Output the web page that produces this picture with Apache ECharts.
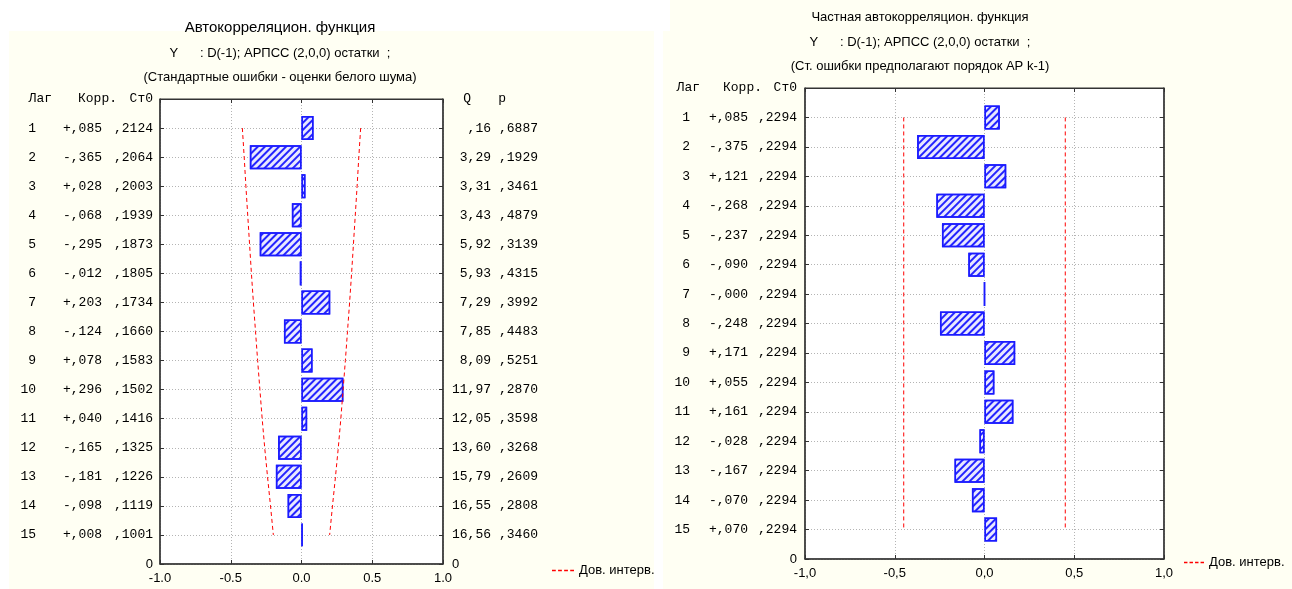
<!DOCTYPE html>
<html><head><meta charset="utf-8">
<script src="https://cdn.jsdelivr.net/npm/echarts@6/dist/echarts.min.js"></script>
<style>html,body{margin:0;padding:0;background:#fff}#c{width:1292px;height:589px}</style>
</head><body><div id="c"></div>
<script>
// ---- data ----
const lags = [1,2,3,4,5,6,7,8,9,10,11,12,13,14,15];
const acf = [0.085,-0.365,0.028,-0.068,-0.295,-0.012,0.203,-0.124,0.078,0.296,0.040,-0.165,-0.181,-0.098,0.008];
const acfSE = [0.2124,0.2064,0.2003,0.1939,0.1873,0.1805,0.1734,0.1660,0.1583,0.1502,0.1416,0.1325,0.1226,0.1119,0.1001];
const qStat = [0.16,3.29,3.31,3.43,5.92,5.93,7.29,7.85,8.09,11.97,12.05,13.60,15.79,16.55,16.56];
const pVal = [0.6887,0.1929,0.3461,0.4879,0.3139,0.4315,0.3992,0.4483,0.5251,0.2870,0.3598,0.3268,0.2609,0.2808,0.3460];
const acfConf = [0.418,0.405,0.393,0.380,0.367,0.354,0.340,0.325,0.310,0.294,0.278,0.260,0.240,0.219,0.199];
const pacf = [0.085,-0.375,0.121,-0.268,-0.237,-0.090,-0.000,-0.248,0.171,0.055,0.161,-0.028,-0.167,-0.070,0.070];
const pacfSE = [0.2294,0.2294,0.2294,0.2294,0.2294,0.2294,0.2294,0.2294,0.2294,0.2294,0.2294,0.2294,0.2294,0.2294,0.2294];
const pacfConf = [0.45,0.45,0.45,0.45,0.45,0.45,0.45,0.45,0.45,0.45,0.45,0.45,0.45,0.45,0.45];
const xTicksLeft = ['-1.0','-0.5','0.0','0.5','1.0'];
const xTicksRight = ['-1,0','-0,5','0,0','0,5','1,0'];
const legendName = 'Дов. интерв.';
const titlesLeft = ['Автокорреляцион. функция','Y      : D(-1); АРПСС (2,0,0) остатки  ;','(Стандартные ошибки - оценки белого шума)'];
const titlesRight = ['Частная автокорреляцион. функция','Y      : D(-1); АРПСС (2,0,0) остатки  ;','(Ст. ошибки предполагают порядок АР k-1)'];

// ---- helpers ----
const MONO = '"Liberation Mono", "DejaVu Sans Mono", monospace';
const SANS = '"Liberation Sans Narrow", "Liberation Sans", Arial, sans-serif';
function fmtCorr(v){ const neg = v < 0 || Object.is(v, -0); return (neg ? '-' : '+') + ',' + String(Math.round(Math.abs(v)*1000)).padStart(3,'0'); }
function fmtFrac4(v){ return ',' + String(Math.round(v*10000)).padStart(4,'0'); }
function fmtQ(v){ const s = v.toFixed(2).replace('.', ','); return s.startsWith('0,') ? s.slice(1) : s; }
const cats = [''].concat(lags.map(String), ['0']);
const N = cats.length - 1;
function mono(w, align){ return {fontFamily: MONO, fontSize: 13, color: '#000', width: w, align: align || 'right'}; }
const zStyle = {fontFamily: SANS, fontSize: 13, color: '#000'};

const decal = {symbol:'rect', symbolSize:1, color:'#2424ff', dashArrayX:[1,0], dashArrayY:[1.6,2.4], rotation:-Math.PI/4};
const barStyle = {color:'#e8e8ff', borderColor:'#1a1aff', borderWidth:1.5, decal: decal};
const gridLine = {show:true, lineStyle:{color:'#b4b4b4', type:[1,2], width:1}};
const axisLineStyle = {show:true, onZero:false, lineStyle:{color:'#333', width:1.5}};

function xAxes(gi, ticks){
  return [{
    gridIndex: gi, type:'value', min:-1, max:1, interval:0.5, position:'bottom',
    axisLine: axisLineStyle, axisTick:{show:true, inside:true, length:4, lineStyle:{color:'#333'}},
    axisLabel:{margin:8, fontFamily:SANS, fontSize:13, color:'#000', formatter:(v)=>ticks[Math.round((v+1)/0.5)]},
    splitLine: gridLine
  },{
    gridIndex: gi, type:'value', min:-1, max:1, interval:0.5, position:'top',
    axisLine: {show:true, onZero:false, lineStyle:{color:'#333', width:1}}, axisTick:{show:true, inside:true, length:4, lineStyle:{color:'#333'}},
    axisLabel:{show:false}, splitLine:{show:false}
  }];
}
function catAxis(gi, pos, label){
  return {
    gridIndex: gi, type:'category', data: cats, inverse:true, boundaryGap:false, position: pos,
    axisLine: axisLineStyle, axisTick:{show:true, inside:true, length:4, alignWithLabel:true, lineStyle:{color:'#333'}},
    splitLine: gridLine, axisLabel: label
  };
}
function confSeries(xi, yi, conf, sign){
  return {type:'line', name: legendName, xAxisIndex:xi, yAxisIndex:yi, symbol:'none', silent:true,
    data: lags.map((l,i)=>[sign*conf[i], l]),
    lineStyle:{color:'#ff0000', width:1, type:[4,3]}, itemStyle:{color:'#ff0000'}, z:5};
}

const leftLabel = {
  interval:0, margin:7, align:'right',
  formatter:(v, idx)=>{
    if (idx === 0) return '{h1|Лаг}{h2|Корр.}{h3|Ст0}';
    if (idx === N) return '{z|0}';
    const i = idx-1;
    return '{lag|'+lags[i]+'}{corr|'+fmtCorr(acf[i])+'}{se|'+fmtFrac4(acfSE[i])+'}';
  },
  rich:{h1:mono(42), h2:mono(65), h3:mono(36), lag:mono(26), corr:mono(66), se:mono(51), z:zStyle}
};
const qpLabel = {
  interval:0, margin:9, align:'left',
  formatter:(v, idx)=>{
    if (idx === 0) return '{qh|Q}{ph|p}';
    if (idx === N) return '{z|0}';
    const i = idx-1;
    return '{q|'+fmtQ(qStat[i])+'}{p|'+fmtFrac4(pVal[i])+'}';
  },
  rich:{qh:mono(19), ph:mono(35), q:mono(39), p:mono(47), z:zStyle}
};
const rightLabel = {
  interval:0, margin:8, align:'right',
  formatter:(v, idx)=>{
    if (idx === 0) return '{h1|Лаг}{h2|Корр.}{h3|Ст0}';
    if (idx === N) return '{z|0}';
    const i = idx-1;
    return '{lag|'+lags[i]+'}{corr|'+fmtCorr(pacf[i])+'}{se|'+fmtFrac4(pacfSE[i])+'}';
  },
  rich:{h1:mono(43), h2:mono(62), h3:mono(35), lag:mono(28), corr:mono(58), se:mono(49), z:zStyle}
};

function titleEls(lines, cx, ys, sizes){
  return lines.map((t,i)=>({type:'text', x:cx, y:ys[i], z:10,
    style:{text:t, font:sizes[i]+'px "Liberation Sans", Arial, sans-serif', fill:'#000', align:'center', verticalAlign:'middle'}}));
}

const dashIcon = 'path://M0,0h5v2h-5z M8,0h5v2h-5z M16,0h5v2h-5z M24,0h5v2h-5z';

const chart = echarts.init(document.getElementById('c'), null, {renderer:'canvas'});
chart.setOption({
  animation:false,
  backgroundColor:'#ffffff',
  graphic:{elements:[
    {type:'rect', shape:{x:9, y:31, width:645, height:558}, style:{fill:'#fffff3'}, z:-10, silent:true},
    {type:'rect', shape:{x:663, y:31, width:629, height:558}, style:{fill:'#fffff3'}, z:-10, silent:true},
    {type:'rect', shape:{x:670, y:0, width:622, height:31}, style:{fill:'#fffff3'}, z:-10, silent:true}
  ].concat(titleEls(titlesLeft, 280, [28,53,77], [15,13,13]), titleEls(titlesRight, 920, [17,42,66], [13,13,13]))},
  grid:[
    {left:160, top:99, width:283, height:465, show:true, backgroundColor:'#ffffff', borderColor:'#333', borderWidth:1},
    {left:805, top:88, width:359, height:471, show:true, backgroundColor:'#ffffff', borderColor:'#333', borderWidth:1}
  ],
  xAxis: xAxes(0, xTicksLeft).concat(xAxes(1, xTicksRight)),
  yAxis:[
    catAxis(0, 'left', leftLabel),
    Object.assign(catAxis(0, 'right', qpLabel), {splitLine:{show:false}}),
    catAxis(1, 'left', rightLabel),
    Object.assign(catAxis(1, 'right', {show:false}), {splitLine:{show:false}})
  ],
  legend:[
    {left:547, top:559, data:[{name:legendName, icon:dashIcon}], selectedMode:false, itemWidth:22, itemHeight:2, itemGap:4,
      textStyle:{fontFamily:SANS, fontSize:13, color:'#000'}},
    {left:1179, top:551, data:[{name:legendName, icon:dashIcon}], selectedMode:false, itemWidth:20, itemHeight:2, itemGap:4,
      textStyle:{fontFamily:SANS, fontSize:13, color:'#000'}}
  ],
  series:[
    {type:'bar', xAxisIndex:0, yAxisIndex:0, barWidth:24, silent:true, itemStyle:barStyle,
      data:[null].concat(acf, [null])},
    confSeries(0, 0, acfConf, 1),
    confSeries(0, 0, acfConf, -1),
    {type:'bar', xAxisIndex:2, yAxisIndex:2, barWidth:24, silent:true, itemStyle:barStyle,
      data:[null].concat(pacf, [null])},
    confSeries(2, 2, pacfConf, 1),
    confSeries(2, 2, pacfConf, -1)
  ]
});
</script>
</body></html>
